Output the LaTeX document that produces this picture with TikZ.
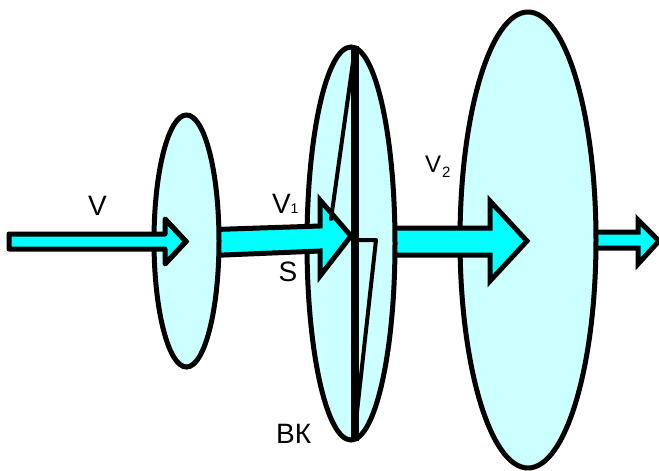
\documentclass[tikz,border=0pt]{standalone}
\usepackage{fontspec}
\setmainfont{Liberation Sans}
\definecolor{diskfill}{HTML}{CCFFFF}
\definecolor{flowfill}{HTML}{00FFFF}
\begin{document}
\begin{tikzpicture}[x=1pt,y=-1pt,
  disk/.style={draw=black, line width=5pt, fill=diskfill},
  flow/.style={draw=black, line width=5pt, fill=flowfill, line join=miter, miter limit=4},
  guide/.style={draw=black, line width=4pt, line join=round, line cap=round},
  axis/.style={draw=black, line width=8.5pt},
  lbl/.style={anchor=base west, inner sep=0pt, font=\fontsize{28}{28}\selectfont},
  sub/.style={anchor=base west, inner sep=0pt, font=\fontsize{14}{14}\selectfont},
]
\useasboundingbox (0,0) rectangle (659,471);
\fill[white] (0,0) rectangle (659,471);

% arrow 4 (behind disk 3)
\draw[flow] (570,232) -- (638,232) -- (638,220) -- (659,241) -- (638,264) -- (638,248) -- (570,248) -- cycle;
% disk 3
\draw[disk] (528,240) ellipse [x radius=68, y radius=228];
% arrow 3
\draw[flow] (370,228) -- (490,228) -- (490,201) -- (527,241) -- (490,281) -- (490,255) -- (370,255) -- cycle;
% disk 2
\draw[disk] (351,243.5) ellipse [x radius=44, y radius=196.5];
% arrow 2
\draw[flow] (200,230) -- (320,226) -- (320,200) -- (351,236) -- (320,276) -- (320,251) -- (200,256) -- cycle;
% disk 1
\draw[disk] (186.5,241) ellipse [x radius=32.5, y radius=126];
% arrow 1
\draw[flow, line join=round] (9,234) -- (165,234) -- (165,219) -- (186,241.5) -- (165,264) -- (165,249) -- (9,249) -- cycle;
\draw[flow, fill=none] (165,219) -- (186,241.5) -- (165,264);

% disk plane and stream tube sketch
\draw[axis] (355,46) -- (355,441);
\draw[guide] (353,62) -- (331,219);
\draw[guide] (355,240) -- (376,240) -- (355,430);

% labels
\node[lbl] (v) at (88,215) {V};
\node[lbl] (v1) at (272,213) {V};
\node[sub] (v1s) at (290.5,213) {1};
\node[lbl] (s) at (278.5,281) {S};
\node[anchor=base west, inner sep=0pt, font=\fontsize{24}{24}\selectfont] (v2) at (425,172) {V};
\node[anchor=base west, inner sep=0pt, font=\fontsize{15}{15}\selectfont] (v2s) at (442,177) {2};
\node[lbl] (bk) at (276,443) {ВК};
\end{tikzpicture}
\end{document}
